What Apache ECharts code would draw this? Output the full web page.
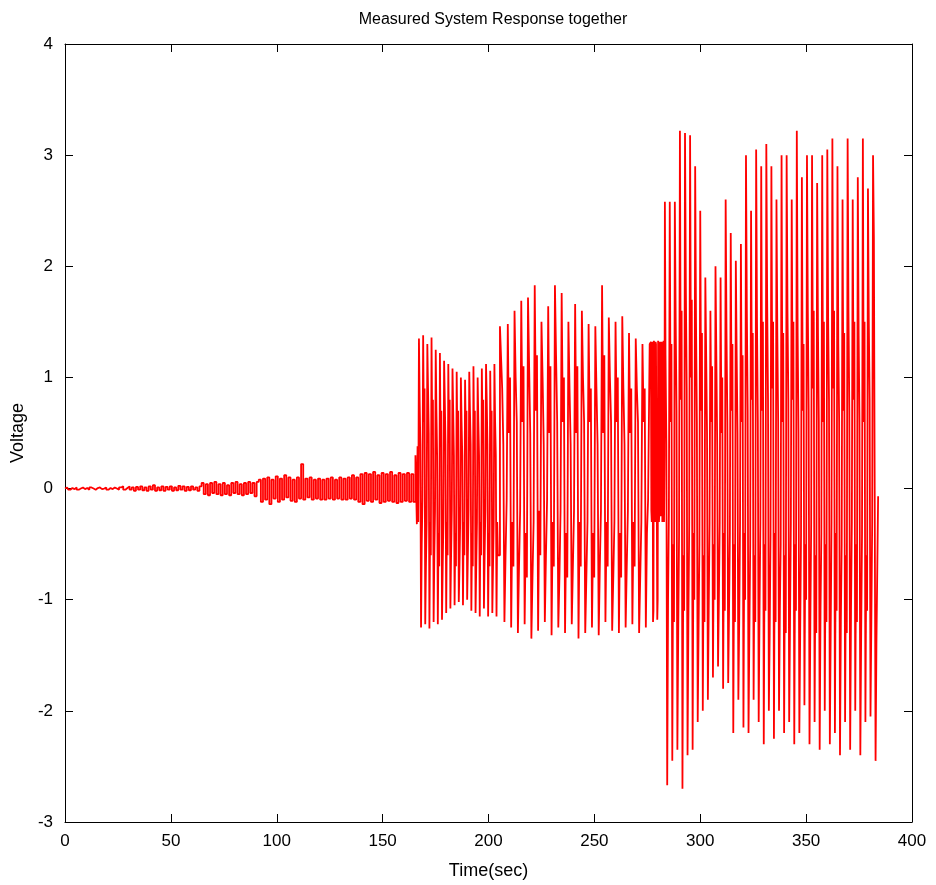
<!DOCTYPE html>
<html>
<head>
<meta charset="utf-8">
<script src="https://cdn.jsdelivr.net/npm/echarts@6/dist/echarts.min.js"></script>
<style>
html,body{margin:0;padding:0;background:#fff;}
#chart{width:936px;height:885px;}
</style>
</head>
<body>
<div id="chart"></div>
<script>
// ---- Data ----
const chartTitle = 'Measured System Response together';
const xAxisName = 'Time(sec)';
const yAxisName = 'Voltage';
const xTicks = [0, 50, 100, 150, 200, 250, 300, 350, 400];
const yTicks = [-3, -2, -1, 0, 1, 2, 3, 4];

// sampling of each recorded stage: start time (s) and sample spacing (s)
const stageStarts = [0, 166, 206.2, 276.6, 283.4];
const stageSteps = [1, 0.33, 0.53, 0.2, 0.4];

// stage 0: low-level noise, t = 0..165 s
const noiseVoltage = [
  0, 0.01, -0.01, 0.005, -0.005, 0.01, -0.01, 0, 0.01, -0.005,
  0.005, -0.01, 0.01, 0, -0.01, 0.005, 0.01, -0.005, 0, 0.01,
  -0.01, 0.005, -0.005, 0.01, 0, -0.01, 0.01, 0.02, -0.01, 0.005,
  0.02, -0.01, 0.01, -0.02, 0.015, -0.01, 0.02, -0.015, 0.01, -0.02,
  0.02, -0.01, 0.03, -0.02, 0.01, -0.015, 0.02, -0.02, 0.015, -0.01,
  0.02, -0.02, 0.01, -0.015, 0.025, -0.01, 0.02, -0.02, 0.015, -0.015,
  0.02, -0.01, 0.01, -0.02, 0.02,
  0.05, -0.05, 0.04, -0.06, 0.05, -0.04, 0.06, -0.05, 0.04, -0.06,
  0.05, -0.05, 0.03, -0.06, 0.05, -0.04, 0.06, -0.05, 0.04, -0.06,
  0.05, -0.05, 0.06, -0.04, 0.05, -0.07, 0.06,
  0.08, -0.12, 0.09, -0.1, 0.1, -0.14, 0.08, -0.09, 0.11, -0.12,
  0.09, -0.1, 0.12, -0.08, 0.1, -0.11, 0.08, -0.12, 0.1, -0.09,
  0.22, -0.1, 0.09, -0.08, 0.1, -0.1, 0.08, -0.09, 0.09, -0.1,
  0.08, -0.1, 0.09, -0.09, 0.1, -0.1, 0.08, -0.09, 0.1, -0.1,
  0.09, -0.1, 0.1, -0.09, 0.12, -0.1, 0.1, -0.12, 0.13, -0.14,
  0.14, -0.11, 0.13, -0.12, 0.15, -0.1, 0.12, -0.13, 0.14, -0.12,
  0.13, -0.11, 0.15, -0.12, 0.12, -0.13, 0.14, -0.12, 0.13, -0.11,
  0.14, -0.12, 0.13, -0.12
];

// stage 1: onset and first oscillations, t = 166..204.6 s
// each cycle: peak, two hold levels, trough, two hold levels
const buildUpVoltage = [
  0.3, -0.32, 0.38, -0.3,
  1.35, 0.8, 0.4, -1.25, -0.5, -0.1,
  1.38, 0.6, 0.9, -1.22, -0.7, -0.3,
  1.3, 0.9, 0.5, -1.26, -0.3, -0.6,
  1.36, 0.5, 0.8, -1.2, -0.6, -0.2,
  1.25, 0.7, 0.3, -1.22, -0.4, -0.7,
  1.22, 0.4, 0.7, -1.18, -0.7, -0.3,
  1.15, 0.8, 0.4, -1.12, -0.3, -0.6,
  1.12, 0.5, 0.8, -1.08, -0.6, -0.2,
  1.08, 0.7, 0.3, -1.05, -0.4, -0.7,
  1.05, 0.4, 0.7, -1.02, -0.7, -0.3,
  1.0, 0.6, 0.3, -1.05, -0.3, -0.6,
  0.98, 0.5, 0.7, -1.0, -0.6, -0.2,
  1.05, 0.7, 0.4, -1.1, -0.4, -0.7,
  1.1, 0.4, 0.7, -1.12, -0.7, -0.3,
  1.0, 0.6, 0.3, -1.15, -0.3, -0.6,
  1.08, 0.5, 0.8, -1.08, -0.6, -0.2,
  1.12, 0.8, 0.4, -1.15, -0.4, -0.7,
  1.06, 0.4, 0.7, -1.12, -0.7, -0.3,
  1.12, 0.6, 0.3, -1.15, -0.3, -0.6
];

// stage 2: growing oscillations, t = 206.2..275.6 s
const growthVoltage = [
  1.46, 0.9, 0.4, -1.2, -0.6, -0.1,
  1.48, 0.5, 1.0, -1.25, -0.3, -0.7,
  1.6, 1.0, 0.6, -1.3, -0.7, -0.2,
  1.69, 0.6, 1.1, -1.22, -0.4, -0.8,
  1.72, 1.1, 0.5, -1.35, -0.8, -0.3,
  1.83, 0.7, 1.2, -1.28, -0.2, -0.6,
  1.5, 1.0, 0.4, -1.2, -0.6, -0.1,
  1.64, 0.5, 1.1, -1.32, -0.3, -0.7,
  1.83, 1.2, 0.6, -1.25, -0.8, -0.2,
  1.76, 0.6, 1.0, -1.3, -0.4, -0.8,
  1.5, 0.9, 0.4, -1.22, -0.7, -0.2,
  1.66, 0.5, 1.1, -1.35, -0.3, -0.7,
  1.6, 1.0, 0.6, -1.3, -0.8, -0.3,
  1.48, 0.6, 0.9, -1.25, -0.4, -0.8,
  1.46, 0.9, 0.4, -1.32, -0.7, -0.2,
  1.83, 0.5, 1.2, -1.2, -0.3, -0.7,
  1.54, 1.0, 0.6, -1.28, -0.8, -0.3,
  1.5, 0.6, 1.0, -1.3, -0.4, -0.8,
  1.55, 0.9, 0.4, -1.25, -0.7, -0.2,
  1.4, 0.5, 0.9, -1.22, -0.3, -0.7,
  1.35, 0.9, 0.6, -1.3, -0.8, -0.3,
  1.3, 0.6, 0.9, -1.25, -0.4, -0.1
];

// stage 3: transition block, t = 276.6..283.2 s
const transitionVoltage = [
  1.3, 1.32, -0.2, -0.3, 1.32, 1.3, -1.2, -1.1, 1.33, 1.3,
  0.3, -0.3, 1.32, 1.3, 0.3, -0.25, -1.18, -1.0, 1.33, 1.3,
  -0.3, -0.2, 1.3, 1.32, -0.25, 0.3, 1.32, 1.3, -0.3, 0.2,
  1.3, 1.33, -0.3, 0.3
];

// stage 4: large oscillations, t = 283.4..384.2 s
const highGainVoltage = [
  2.58, 1.2, 0.4, -2.67, -1.0, -0.2,
  2.58, 0.6, 1.3, -2.45, -0.5, -1.2,
  2.58, 1.5, 0.7, -2.35, -1.3, -0.4,
  3.22, 0.8, 1.6, -2.7, -0.6, -1.1,
  3.2, 1.8, 0.9, -2.4, -1.2, -0.3,
  3.18, 1.0, 1.7, -2.35, -0.4, -1.0,
  2.9, 1.5, 0.6, -2.1, -1.3, -0.5,
  2.5, 0.7, 1.4, -2.0, -0.6, -1.2,
  1.9, 1.2, 0.5, -1.9, -1.1, -0.3,
  1.6, 0.6, 1.1, -1.7, -0.5, -1.0,
  2.0, 1.2, 0.4, -1.6, -1.0, -0.3,
  1.9, 0.5, 1.0, -1.8, -0.4, -1.1,
  2.6, 1.4, 0.6, -1.75, -1.1, -0.4,
  2.3, 0.7, 1.3, -2.2, -0.5, -1.2,
  2.05, 1.2, 0.5, -1.9, -1.2, -0.3,
  2.2, 0.6, 1.2, -2.15, -0.4, -1.0,
  3.0, 1.6, 0.7, -2.2, -1.3, -0.5,
  2.5, 0.8, 1.4, -1.9, -0.6, -1.2,
  3.05, 1.5, 0.6, -2.1, -1.1, -0.3,
  2.9, 0.7, 1.5, -2.3, -0.5, -1.1,
  3.1, 1.7, 0.8, -2.0, -1.3, -0.4,
  2.9, 0.9, 1.5, -2.25, -0.4, -1.2,
  2.6, 1.4, 0.6, -2.0, -1.1, -0.5,
  3.0, 0.6, 1.4, -2.2, -0.6, -1.3,
  3.0, 1.6, 0.8, -2.1, -1.2, -0.3,
  2.6, 0.8, 1.5, -2.3, -0.5, -1.1,
  3.22, 1.4, 0.5, -2.2, -1.3, -0.4,
  2.8, 0.7, 1.3, -1.95, -0.5, -1.0,
  3.0, 1.6, 0.7, -2.3, -1.2, -0.3,
  3.0, 0.9, 1.6, -2.1, -0.6, -1.3,
  2.75, 1.4, 0.6, -2.35, -1.1, -0.4,
  3.0, 0.6, 1.5, -2.0, -0.5, -1.2,
  3.05, 1.5, 0.8, -2.3, -1.3, -0.3,
  3.15, 0.9, 1.6, -2.2, -0.4, -1.1,
  2.9, 1.3, 0.6, -2.4, -1.2, -0.5,
  2.6, 0.7, 1.4, -2.1, -0.6, -1.3,
  3.15, 1.6, 0.7, -2.35, -1.1, -0.3,
  2.6, 0.8, 1.5, -2.0, -0.5, -1.2,
  2.8, 1.4, 0.6, -2.4, -1.3, -0.4,
  3.15, 0.6, 1.5, -2.1, -0.6, -1.1,
  2.7, 1.5, 0.8, -2.05, -1.2, -0.3,
  3.0, 2.25, 2.25, -2.45, -1.4, -1.4,
  -0.07
];

// ---- Build the series (time of each sample from its stage's sampling grid) ----
const stages = [noiseVoltage, buildUpVoltage, growthVoltage, transitionVoltage, highGainVoltage];
const seriesData = [];
stages.forEach(function (vals, s) {
  vals.forEach(function (v, i) {
    seriesData.push([+(stageStarts[s] + i * stageSteps[s]).toFixed(3), v]);
  });
});

const FONT = '"Liberation Sans", Arial, Helvetica, sans-serif';
const chart = echarts.init(document.getElementById('chart'), null, {renderer: 'canvas'});

function axisCommon(showLabel) {
  return {
    axisLine: {show: true, onZero: false, lineStyle: {color: '#000', width: 1}},
    axisTick: {show: true, inside: true, length: 8, lineStyle: {color: '#000', width: 1}},
    splitLine: {show: false},
    axisLabel: {show: showLabel, color: '#000', fontSize: 17, fontFamily: FONT}
  };
}

const option = {
  animation: false,
  backgroundColor: '#fff',
  title: {
    text: chartTitle,
    left: 488, top: 7, textAlign: 'center',
    textStyle: {fontSize: 16, fontWeight: 'normal', color: '#000', fontFamily: FONT}
  },
  grid: {left: 65, right: 24, top: 44, bottom: 61, containLabel: false},
  xAxis: [
    Object.assign(axisCommon(true), {
      type: 'value', position: 'bottom', min: xTicks[0], max: xTicks[xTicks.length - 1],
      interval: xTicks[1] - xTicks[0],
      name: xAxisName, nameLocation: 'middle', nameGap: 40,
      nameTextStyle: {fontSize: 18, color: '#000', fontFamily: FONT},
      axisLabel: {show: true, color: '#000', fontSize: 17, fontFamily: FONT, margin: 11}
    }),
    Object.assign(axisCommon(false), {
      type: 'value', position: 'top', min: xTicks[0], max: xTicks[xTicks.length - 1],
      interval: xTicks[1] - xTicks[0]
    })
  ],
  yAxis: [
    Object.assign(axisCommon(true), {
      type: 'value', position: 'left', min: yTicks[0], max: yTicks[yTicks.length - 1],
      interval: yTicks[1] - yTicks[0],
      name: yAxisName, nameLocation: 'middle', nameGap: 32, nameRotate: 90,
      nameTextStyle: {fontSize: 18, color: '#000', fontFamily: FONT},
      axisLabel: {show: true, color: '#000', fontSize: 17, fontFamily: FONT, margin: 12}
    }),
    Object.assign(axisCommon(false), {
      type: 'value', position: 'right', min: yTicks[0], max: yTicks[yTicks.length - 1],
      interval: yTicks[1] - yTicks[0]
    })
  ],
  series: [{
    type: 'line',
    xAxisIndex: 0, yAxisIndex: 0,
    data: seriesData,
    step: 'middle',
    showSymbol: false,
    symbol: 'none',
    sampling: false,
    lineStyle: {color: '#ff0000', width: 1.8},
    itemStyle: {color: '#ff0000'},
    z: 1
  }]
};
chart.setOption(option);
</script>
</body>
</html>
